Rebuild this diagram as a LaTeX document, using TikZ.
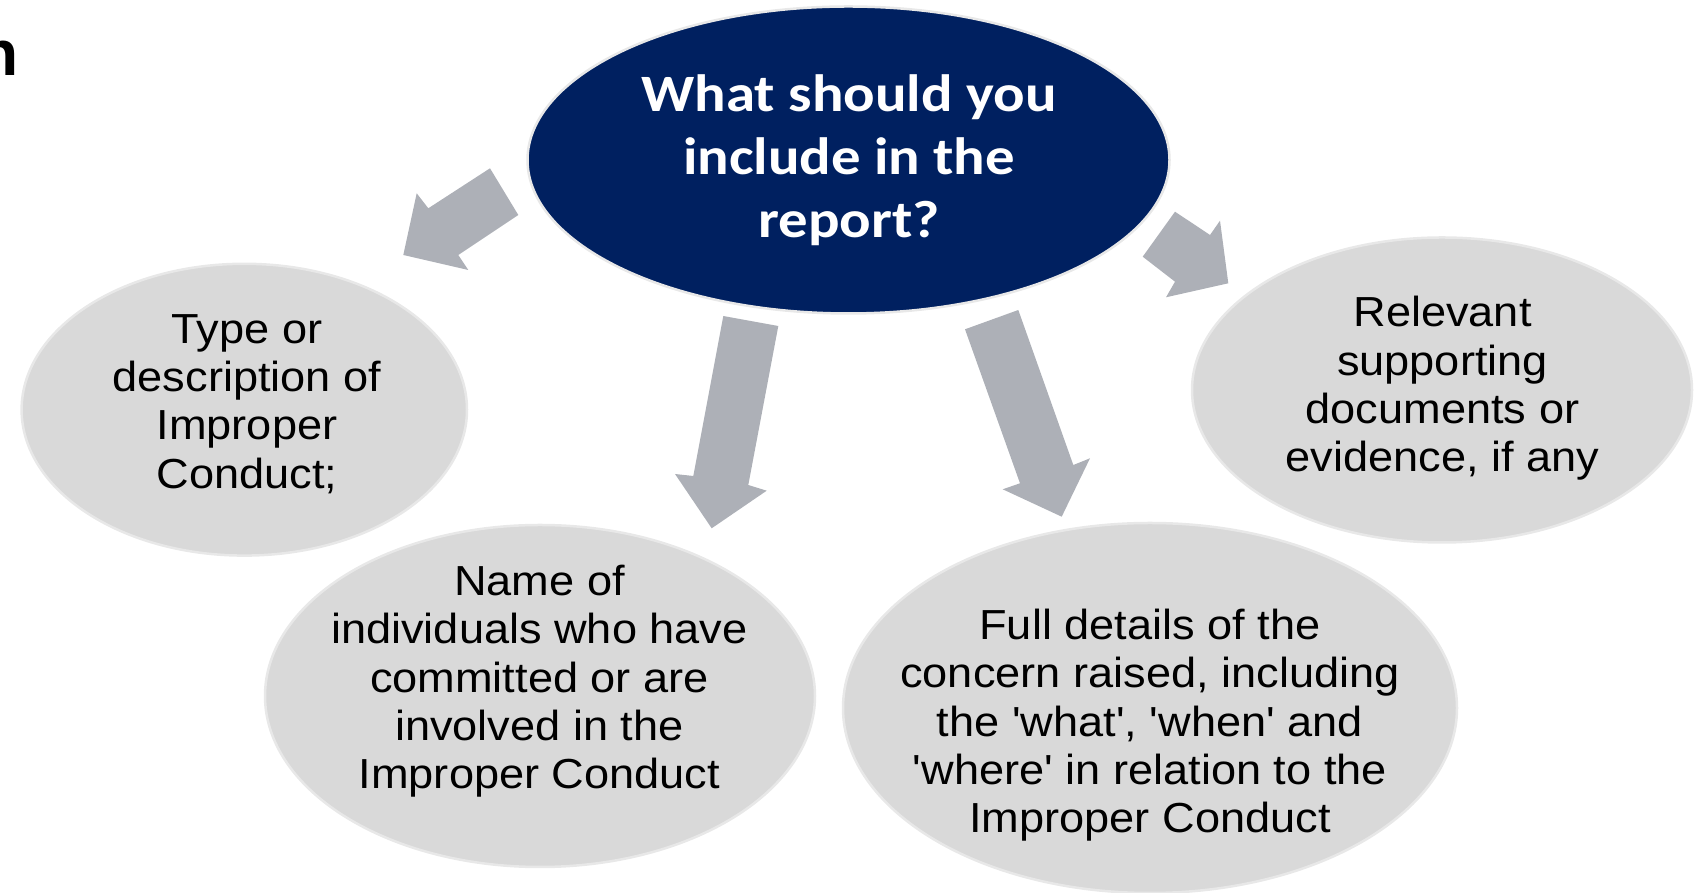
\documentclass[tikz,border=0pt]{standalone}
\usepackage{fontspec}
\setmainfont{Liberation Sans}
\newfontfamily\bodyfont{Liberation Sans}[FakeStretch=1.075]
\newfontfamily\headfont{Carlito}[FakeStretch=1.12]
\usetikzlibrary{shapes.geometric}
\definecolor{navy}{HTML}{002060}
\definecolor{bubblefill}{HTML}{D9D9D9}
\definecolor{rim}{HTML}{E8E8E8}
\definecolor{arrowgray}{HTML}{ADB0B7}
\begin{document}
\begin{tikzpicture}[x=1pt,y=1pt,
  bubble/.style={ellipse, fill=bubblefill, draw=rim, line width=2.5pt, inner sep=0pt},
  hub/.style={ellipse, fill=navy, draw=rim, line width=2.5pt, inner sep=0pt},
  bodytext/.style={align=center, inner sep=0pt, anchor=base, text=black,
    font=\bodyfont\fontsize{42pt}{48.3pt}\selectfont},
  headtext/.style={align=center, inner sep=0pt, anchor=base, text=white,
    font=\headfont\bfseries\fontsize{52.5pt}{63pt}\selectfont},
  blockarrow/.style={fill=arrowgray, draw=none}]
\useasboundingbox (0,0) rectangle (1695,893);

% block arrows
\fill[blockarrow] (490,724.7) -- (518.3,678) -- (458.3,638) -- (468.3,623) -- (403.3,638) -- (416.7,699.7) -- (428.3,684.7) -- cycle;
\fill[blockarrow] (1175,681.3) -- (1142.7,636.3) -- (1175,611.3) -- (1166,595.7) -- (1228.3,609.7) -- (1220,672.3) -- (1210,658) -- cycle;
\fill[blockarrow] (723.3,577) -- (778.3,567) -- (748.3,408) -- (766.7,402.3) -- (711.7,364.7) -- (675,419) -- (693.3,417) -- cycle;
\fill[blockarrow] (965,563.7) -- (1018.3,583) -- (1073.3,428) -- (1090,434.7) -- (1061.7,376.3) -- (1002.7,403.7) -- (1020,409.7) -- cycle;

% ellipses
\node[hub, minimum width=642pt, minimum height=307pt] (hub) at (848.5,733) {};
\node[bubble, minimum width=445.4pt, minimum height=291.8pt] (left) at (244.3,483.3) {};
\node[bubble, minimum width=550pt, minimum height=342pt] (botleft) at (540,197) {};
\node[bubble, minimum width=614pt, minimum height=370pt] (botright) at (1150,185) {};
\node[bubble, minimum width=500pt, minimum height=305pt] (right) at (1442,503) {};

% texts (base anchor = baseline of the last line)
\node[headtext] (hubtext) at (849,655.3) {What should you\\include in the\\report?};
\node[bodytext] (lefttext) at (247,404.8) {Type or\\description of\\Improper\\Conduct;};
\node[bodytext] (botlefttext) at (539.4,104.3) {Name of\\individuals who have\\committed or are\\involved in the\\Improper Conduct};
\node[bodytext] (botrighttext) at (1150,60.3) {Full details of the\\concern raised, including\\the 'what', 'when' and\\'where' in relation to the\\Improper Conduct};
\node[bodytext] (righttext) at (1442.5,421.1) {Relevant\\supporting\\documents or\\evidence, if any};

% clipped title remnant
\node[anchor=base east, inner sep=0pt, font=\bfseries\fontsize{64pt}{64pt}\selectfont] (remnant) at (19,817) {n};
\end{tikzpicture}
\end{document}
